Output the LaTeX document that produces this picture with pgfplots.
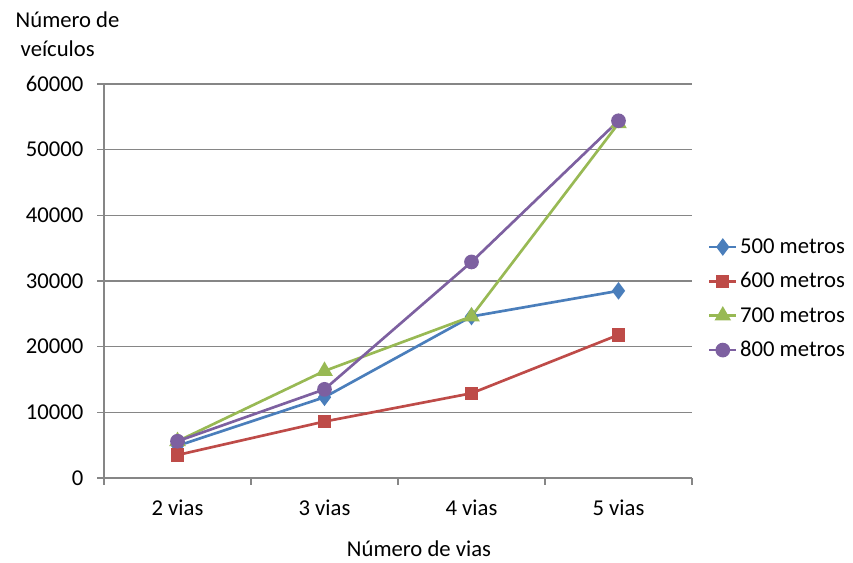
\documentclass[border=0pt]{standalone}
\usepackage{pgfplots}
\pgfplotsset{compat=1.18}
\usepackage{fontspec}
\setmainfont{Carlito}

\definecolor{s500}{HTML}{4A7EBB}
\definecolor{s600}{HTML}{BE4B48}
\definecolor{s700}{HTML}{98B954}
\definecolor{s800}{HTML}{7D60A0}
\definecolor{gridgray}{HTML}{868686}

\begin{document}
\begin{tikzpicture}[x=1pt,y=1pt]
\begin{axis}[
  scale only axis,
  width=441pt, height=295.5pt,
  xmin=-0.5, xmax=3.5,
  ymin=0, ymax=60000,
  xtick={0,1,2,3},
  xticklabels={2 vias,3 vias,4 vias,5 vias},
  major x tick style={draw=none},
  minor xtick={-0.5,0.5,1.5,2.5,3.5},
  minor x tick style={gridgray, line width=0.8pt},
  minor tick length=5pt,
  ytick={0,10000,...,60000},
  major y tick style={gridgray, line width=0.8pt},
  major tick length=5pt,
  tick align=outside,
  tick pos=left,
  ymajorgrids,
  grid style={gridgray, line width=0.8pt},
  axis line style={gridgray, line width=0.8pt},
  axis x line*=bottom,
  axis y line*=left,
  /pgf/number format/assume math mode=true,
  /pgf/number format/1000 sep={},
  scaled y ticks=false,
  ticklabel style={font=\fontsize{17}{19}\selectfont, text=black},
  yticklabel style={xshift=-7pt},
  xticklabel style={yshift=-8pt},
  every axis plot/.append style={line width=2pt},
  legend style={
    at={(1.027,0.455)}, anchor=west,
    draw=none, fill=none,
    font=\fontsize{17}{19}\selectfont,
    row sep=9pt,
    inner sep=0pt,
    /tikz/every even column/.append style={column sep=2pt},
  },
  legend cell align=left,
  legend image code/.code={
    \draw[#1, mark repeat=2, mark phase=2] plot coordinates {(0pt,0pt) (10pt,0pt) (20pt,0pt)};
  },
]
% 500 metros
\addplot[color=s500, mark=diamond*, mark size=5pt, mark options={solid, fill=s500}]
  coordinates {(0,4900) (1,12300) (2,24600) (3,28500)};
\addlegendentry{500 metros}
% 600 metros
\addplot[color=s600, mark=square*, mark size=4pt, mark options={solid, fill=s600}]
  coordinates {(0,3500) (1,8600) (2,12900) (3,21800)};
\addlegendentry{600 metros}
% 700 metros
\addplot[color=s700, mark=triangle*, mark size=5.2pt, mark options={solid, fill=s700}]
  coordinates {(0,5600) (1,16300) (2,24600) (3,54000)};
\addlegendentry{700 metros}
% 800 metros
\addplot[color=s800, mark=*, mark size=4.5pt, mark options={solid, fill=s800}]
  coordinates {(0,5600) (1,13500) (2,32900) (3,54400)};
\addlegendentry{800 metros}
\end{axis}
% axis titles
\node[anchor=base west, font=\fontsize{17}{19}\selectfont]
  at ([xshift={-93*0.75pt}, yshift={56*0.75pt}]current axis.north west) {Número de};
\node[anchor=base west, font=\fontsize{17}{19}\selectfont]
  at ([xshift={-88*0.75pt}, yshift={27*0.75pt}]current axis.north west) {veículos};
\node[anchor=base, font=\fontsize{17}{19}\selectfont]
  at ([xshift={315*0.75pt}, yshift={-79*0.75pt}]current axis.south west) {Número de vias};
\pgfresetboundingbox
\useasboundingbox ([xshift={-104*0.75pt}, yshift={-85*0.75pt}]current axis.south west)
  rectangle ([xshift={161*0.75pt}, yshift={84*0.75pt}]current axis.north east);
\end{tikzpicture}
\end{document}
